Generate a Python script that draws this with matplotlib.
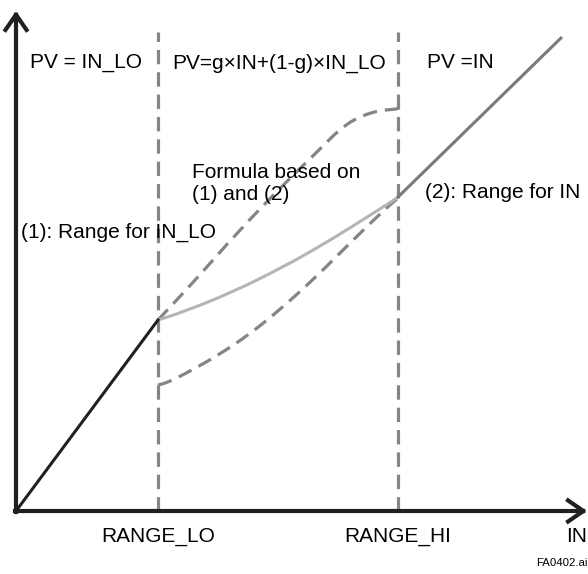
import matplotlib.pyplot as plt
from matplotlib.path import Path
from matplotlib.patches import PathPatch

plt.rcParams['font.family'] = ['Liberation Sans', 'DejaVu Sans']

### Data (IN on x, PV on y, origin at the axes corner) ###
range_lo = 142
range_hi = 382
y_top = 479

# (1): range for IN_LO
in_lo_x = [0, 142]
in_lo_y = [0, 191]

# formula based on (1) and (2)
mix_x = [142, 167, 217, 267, 301, 334, 381]
mix_y = [191, 199, 219, 244, 263, 283, 313]

# possible formula outcomes (dashed envelopes)
upper_x = [142, 184, 219, 267, 300, 330, 358, 382, 382]
upper_y = [191, 236, 276, 326, 358, 388, 400, 402, 403]
lower_x = [142, 150, 167, 201, 234, 267, 301, 334, 367, 382]
lower_y = [126, 128, 136, 155, 177, 204, 235, 268, 300, 313]

# (2): range for IN
in_x = [381, 464, 546]
in_y = [313, 394, 474]

tick_names = ['RANGE_LO', 'RANGE_HI']
tick_pos = [range_lo, range_hi]


# smooth curve through the read points (quadratic pieces between midpoints)
def smooth(xs, ys):
    pts = list(zip(xs, ys))
    verts = [pts[0]]
    codes = [Path.MOVETO]
    if len(pts) > 2:
        verts.append(((pts[0][0] + pts[1][0]) / 2, (pts[0][1] + pts[1][1]) / 2))
        codes.append(Path.LINETO)
        for i in range(1, len(pts) - 1):
            mid = ((pts[i][0] + pts[i + 1][0]) / 2, (pts[i][1] + pts[i + 1][1]) / 2)
            verts += [pts[i], mid]
            codes += [Path.CURVE3, Path.CURVE3]
    verts.append(pts[-1])
    codes.append(Path.LINETO)
    return Path(verts, codes)


def curve(ax, xs, ys, **kw):
    ax.add_patch(PathPatch(smooth(xs, ys), fill=False, capstyle='butt', **kw))


fig = plt.figure(figsize=(5.88, 5.74), dpi=100)
ax = fig.add_axes([0, 0, 1, 1])
ax.set_xlim(-16, 572)
ax.set_ylim(-63, 511)
ax.axis('off')

grey = '#858585'
fs = 15
dash = (0, (4.5, 2.5))

# region borders
for xp in tick_pos:
    ax.plot([xp, xp], [0, y_top], color=grey, lw=2.3, dashes=(4.5, 2.5), zorder=1)

curve(ax, upper_x, upper_y, edgecolor=grey, lw=2.3, linestyle=dash, zorder=2)
curve(ax, lower_x, lower_y, edgecolor=grey, lw=2.3, linestyle=dash, zorder=2)
curve(ax, mix_x, mix_y, edgecolor='#b5b5b5', lw=2.2, zorder=3)
curve(ax, in_x, in_y, edgecolor='#7a7a7a', lw=2.2, zorder=3)
ax.plot(in_lo_x, in_lo_y, color='#231f20', lw=2.2, zorder=4)

# axes with open arrow heads
arrow = dict(arrowstyle='->,head_length=0.55,head_width=0.38', lw=3, color='#231f20',
             mutation_scale=20, shrinkA=0, shrinkB=0, capstyle='projecting')
ax.annotate('', xy=(0, 500), xytext=(0, -1), arrowprops=arrow, zorder=5)
ax.annotate('', xy=(571, 0), xytext=(-1, 0), arrowprops=arrow, zorder=5)

# labels
ax.text(14, 448, 'PV = IN_LO', fontsize=fs, va='center', ha='left')
ax.text(156, 448, 'PV=g\u00d7IN+(1-g)\u00d7IN_LO', fontsize=fs, va='center', ha='left')
ax.text(411, 448, 'PV =IN', fontsize=fs, va='center', ha='left')
ax.text(176, 338, 'Formula based on', fontsize=fs, va='center', ha='left')
ax.text(176, 316, '(1) and (2)', fontsize=fs, va='center', ha='left')
ax.text(5, 279, '(1): Range for IN_LO', fontsize=fs, va='center', ha='left')
ax.text(409, 319, '(2): Range for IN', fontsize=fs, va='center', ha='left')

for name, xp in zip(tick_names, tick_pos):
    ax.text(xp, -26, name, fontsize=fs, va='center', ha='center')
ax.text(571, -26, 'IN', fontsize=fs, va='center', ha='right')
ax.text(572, -52, 'FA0402.ai', fontsize=8.2, va='center', ha='right')

plt.savefig('out.png', dpi=100)
